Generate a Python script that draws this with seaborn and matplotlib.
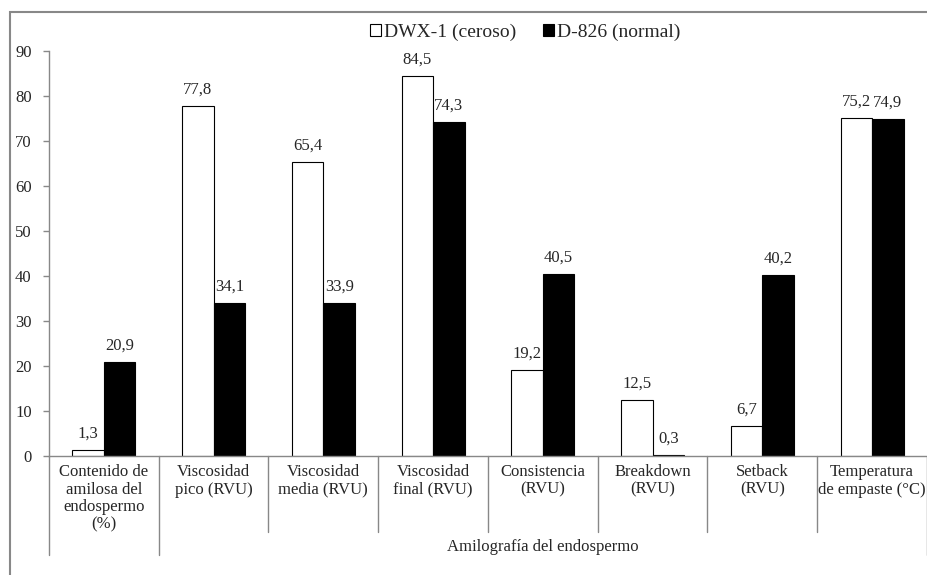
import pandas as pd
import numpy as np
import matplotlib.pyplot as plt
import matplotlib.patches as mpatches
import matplotlib.transforms as mtransforms
import seaborn as sns

# data
categories = ["Contenido de\namilosa del\nendospermo\n(%)",
              "Viscosidad\npico (RVU)",
              "Viscosidad\nmedia (RVU)",
              "Viscosidad\nfinal (RVU)",
              "Consistencia\n(RVU)",
              "Breakdown\n(RVU)",
              "Setback\n(RVU)",
              "Temperatura\nde empaste (°C)"]
series = ["DWX-1 (ceroso)", "D-826 (normal)"]
dwx = [1.3, 77.8, 65.4, 84.5, 19.2, 12.5, 6.7, 75.2]
d826 = [20.9, 34.1, 33.9, 74.3, 40.5, 0.3, 40.2, 74.9]
group_label = "Amilografía del endospermo"

df = pd.DataFrame({
    "cat": categories * 2,
    "var": [series[0]] * len(categories) + [series[1]] * len(categories),
    "val": dwx + d826,
})

sns.set_style("white")
plt.rcParams['font.family'] = ['Liberation Serif', 'DejaVu Serif']
gray = "#888888"

fig = plt.figure(figsize=(9.28, 5.75), dpi=100)
ax = fig.add_axes([49 / 928, 1 - 456 / 575, 878 / 928, 405 / 575])

sns.barplot(data=df, x="cat", y="val", hue="var", order=categories,
            hue_order=series, palette=["white", "black"], width=0.575,
            edgecolor="black", linewidth=0.8, ax=ax, legend=False)

for cont, vals in zip(ax.containers, [dwx, d826]):
    ax.bar_label(cont, labels=[f"{v:.1f}".replace(".", ",") for v in vals],
                 padding=6, fontsize=12)

ax.set_ylim(0, 90)
ax.set_xlim(-0.5, len(categories) - 0.5)
ax.set_yticks(np.arange(0, 91, 10))
ax.tick_params(axis="y", left=True, labelsize=12, length=4.5, width=1,
               color=gray, pad=8)
ax.tick_params(axis="x", bottom=False, labelsize=12, length=0, pad=6)
ax.set_xticks(range(len(categories)))
ax.set_xticklabels(categories, linespacing=1.1)
ax.set_xlabel("")
ax.set_ylabel("")
for s in ["top", "right"]:
    ax.spines[s].set_visible(False)
for s in ["left", "bottom"]:
    ax.spines[s].set_color(gray)
    ax.spines[s].set_linewidth(1)

# category separators below the axis
trans = mtransforms.blended_transform_factory(ax.transData, ax.transAxes)
for i in range(len(categories) + 1):
    xb = i - 0.5
    long = i in (0, 1, len(categories))
    ybot = -0.2444 if long else -0.1877
    ax.plot([xb, xb], [0, ybot], color=gray, lw=1, transform=trans,
            clip_on=False)
ax.text(4.0, -0.225, group_label, transform=trans, ha="center",
        va="center", fontsize=12)

# legend
handles = [mpatches.Patch(facecolor="white", edgecolor="black", lw=0.8),
           mpatches.Patch(facecolor="black", edgecolor="black", lw=0.8)]
fig.legend(handles, series, loc="center", bbox_to_anchor=(525 / 928, 1 - 32 / 575),
           ncol=2, frameon=False, fontsize=14, handlelength=0.55,
           handleheight=0.55, handletextpad=0.15, columnspacing=1.4)

# outer chart border
fig.patches.append(mpatches.Rectangle((10 / 928, -0.5), 2, 1 - 12 / 575 + 0.5,
                                      transform=fig.transFigure, fill=False,
                                      edgecolor=gray, lw=1.5))

fig.savefig("out.png", dpi=100)
